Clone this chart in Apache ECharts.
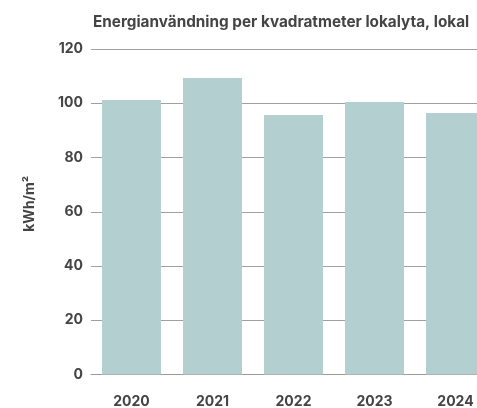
<!DOCTYPE html>
<html lang="sv">
<head>
    <meta charset="UTF-8">
    <title>Energianvändning</title>
    <style>
        html, body { margin: 0; padding: 0; background: #fff; }
    </style>
</head>
<body>
<div id="container" style="width:477px;height:408px"></div>
<script type="text/javascript" src="https://cdn.jsdelivr.net/npm/echarts@6/dist/echarts.min.js"></script>
<script type="text/javascript">
    var years = ['2020', '2021', '2022', '2023', '2024'];
    var energy = [101.2, 109.3, 95.7, 100.5, 96.4];
    var yTicks = [0, 20, 40, 60, 80, 100, 120];

    var textColor = '#444444';
    var fontName = 'Inter';

    var myChart = echarts.init(document.getElementById('container'), null, { renderer: 'canvas' });

    var option = {
        animation: false,
        title: {
            text: 'Energianvändning per kvadratmeter lokalyta, lokal',
            left: 88,
            top: 10,
            textStyle: { color: textColor, fontSize: 15.3, fontWeight: 'bold', fontFamily: fontName }
        },
        grid: { left: 91, top: 49, width: 405, bottom: 33.5, containLabel: false, outerBoundsMode: 'none' },
        xAxis: {
            type: 'category',
            data: years,
            axisLine: { lineStyle: { color: '#9a9a9a', width: 1 } },
            axisTick: { show: false },
            axisLabel: { color: textColor, fontSize: 14, fontWeight: 'bold', fontFamily: fontName, margin: 20 }
        },
        yAxis: {
            type: 'value',
            min: yTicks[0],
            max: yTicks[yTicks.length - 1],
            interval: 20,
            name: 'kWh/m²',
            nameLocation: 'middle',
            nameGap: 54,
            nameTextStyle: { color: textColor, fontSize: 14, fontWeight: 'bold', fontFamily: fontName, padding: [0, 0, 0, 16] },
            axisLine: { show: false },
            axisTick: { show: false },
            splitLine: { lineStyle: { color: '#a0a0a0', width: 1 } },
            axisLabel: { color: textColor, fontSize: 14, fontWeight: 'bold', fontFamily: fontName, margin: 8 }
        },
        series: [
            {
                type: 'bar',
                data: energy,
                barWidth: 59,
                itemStyle: { color: '#b4cfcf' }
            }
        ]
    };

    myChart.setOption(option);
    window.addEventListener('resize', myChart.resize);
</script>
</body>
</html>
